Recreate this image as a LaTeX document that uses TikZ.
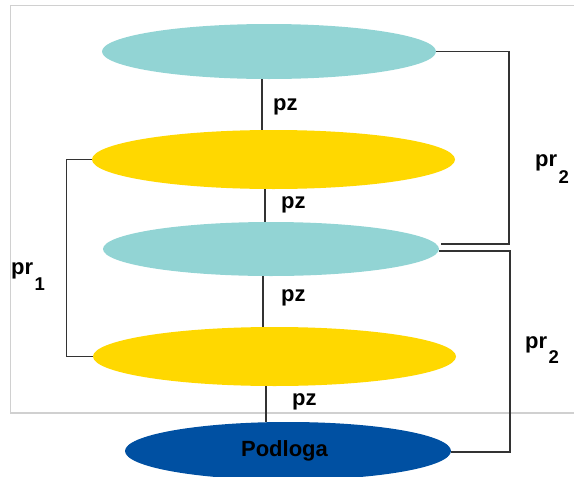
\documentclass[tikz,border=0pt]{standalone}
\usepackage{fontspec}
\setmainfont{Liberation Sans}
\usetikzlibrary{shapes.geometric}
\definecolor{cyanE}{HTML}{92D4D4}
\definecolor{goldE}{HTML}{FFD800}
\definecolor{blueE}{HTML}{0050A2}
\definecolor{frameG}{HTML}{D0D0D0}
\definecolor{lineG}{HTML}{333333}
\begin{document}
\begin{tikzpicture}[x=1pt,y=-1pt,
  lay/.style={ellipse, draw=none, inner sep=0pt},
  conn/.style={draw=lineG, line width=1.1pt},
  lbl/.style={font=\fontsize{22}{24}\selectfont\bfseries, inner sep=0pt, anchor=base west}]
\useasboundingbox (0,0) rectangle (574,477);
% frame
\draw[frameG, line width=1.2pt] (574,5.5) -- (10.5,5.5) -- (10.5,413) -- (574,413);
% layers
\node[lay, fill=cyanE, minimum width=334, minimum height=55] (e1) at (269,51.5) {};
\node[lay, fill=goldE, minimum width=363, minimum height=59] (e2) at (273.5,159.5) {};
\node[lay, fill=cyanE, minimum width=336, minimum height=54] (e3) at (271,249) {};
\node[lay, fill=goldE, minimum width=363, minimum height=59] (e4) at (274.5,356.5) {};
\node[lay, fill=blueE, minimum width=326, minimum height=58,
      font=\fontsize{22}{24}\selectfont\bfseries] (e5) at (288,451) {Podloga\hspace*{7pt}};
% vertical pz connectors
\coordinate (x1) at (262,0);
\coordinate (x2) at (265,0);
\coordinate (x3) at (263,0);
\coordinate (x4) at (266,0);
\draw[conn] (e1.south -| x1) -- (e2.north -| x1);
\draw[conn] (e2.south -| x2) -- (e3.north -| x2);
\draw[conn] (e3.south -| x3) -- (e4.north -| x3);
\draw[conn] (e4.south -| x4) -- (e5.north -| x4);
% pr1 bracket
\draw[conn] (e2.west) -- ++(-25,0) |- (e4.west);
% pr2 brackets
\coordinate (r1) at (509,244);
\coordinate (r2) at (510,452);
\draw[conn] (e1.east) -| (r1) -- ([xshift=2pt]r1 -| e3.east);
\draw[conn] ([yshift=-2pt]e3.east) -| (r2) -- (r2 -| e5.east);
% labels
\node[lbl] (pz1) at (273,110) {pz};
\node[lbl] (pz2) at (281,208) {pz};
\node[lbl] (pz3) at (281,301) {pz};
\node[lbl] (pz4) at (292,405) {pz};
\node[lbl] (pr1) at (11,274) {pr\kern1.5pt\raisebox{-16pt}{\fontsize{18.5}{18}\selectfont 1}};
\node[lbl] (pr2a) at (535,166) {pr\kern1.5pt\raisebox{-17pt}{\fontsize{18.5}{18}\selectfont 2}};
\node[lbl] (pr2b) at (525,348) {pr\kern1.5pt\raisebox{-15pt}{\fontsize{18.5}{18}\selectfont 2}};
\end{tikzpicture}
\end{document}
